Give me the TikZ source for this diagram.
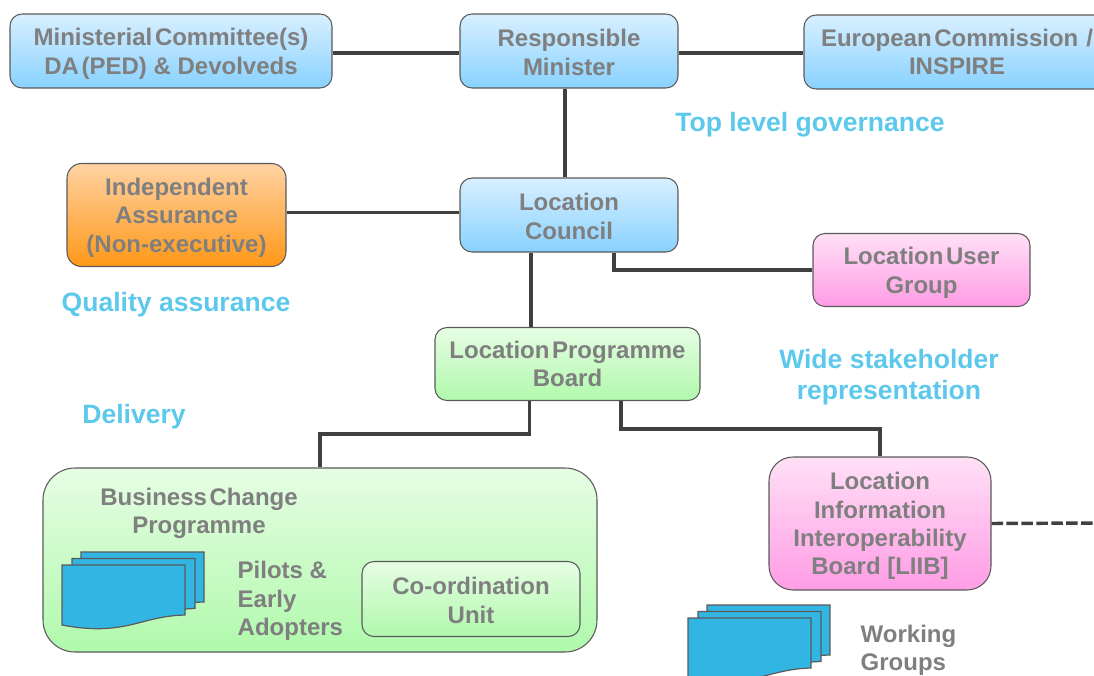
\documentclass[tikz,border=0pt]{standalone}
\usepackage{fontspec}
\setmainfont{Liberation Sans}
\usetikzlibrary{positioning}
\usetikzlibrary{calc}

\definecolor{txtgray}{HTML}{7F7F7F}
\definecolor{linegray}{HTML}{404040}
\definecolor{edgegray}{HTML}{5A5A5A}
\definecolor{headblue}{HTML}{5BC8EC}
\definecolor{docblue}{HTML}{31B6E4}
\definecolor{bluetop}{HTML}{D8EFFF}
\definecolor{bluebot}{HTML}{88D2FF}
\definecolor{orangetop}{HTML}{FFD2A3}
\definecolor{orangebot}{HTML}{FF9817}
\definecolor{pinktop}{HTML}{FFE0F6}
\definecolor{pinkbot}{HTML}{FF9CE5}
\definecolor{greentop}{HTML}{E6FDE3}
\definecolor{greenbot}{HTML}{B0F9AC}

% narrow word gap and a top strut that lowers the text in its box
\newcommand{\tsp}{\hspace{0.11em}}
\newcommand{\low}{\rule{0pt}{17pt}}

\tikzset{
  box/.style={draw=edgegray, line width=0.8pt, rounded corners=9pt, inner sep=0pt, align=center,
     text=txtgray, font=\fontsize{18}{21.3}\selectfont\bfseries},
  bluebox/.style={box, top color=bluetop, bottom color=bluebot},
  orangebox/.style={box, rounded corners=11pt, top color=orangetop, bottom color=orangebot},
  pinkbox/.style={box, top color=pinktop, bottom color=pinkbot},
  greenbox/.style={box, top color=greentop, bottom color=greenbot},
  link/.style={draw=linegray, line width=2.6pt},
  head/.style={text=headblue, align=center, font=\fontsize{19.9}{23.5}\selectfont\bfseries},
  note/.style={text=txtgray, align=left, font=\fontsize{18}{21.3}\selectfont\bfseries},
  page/.style={draw=edgegray, line width=0.9pt, fill=docblue}
}

\begin{document}
\begin{tikzpicture}[x=0.75pt,y=-0.75pt]

  \def\d{0.75pt}

  \useasboundingbox (0,0) rectangle (1094,675);
  \clip (0,0) rectangle (1094,675);

  %top row
  \node[bluebox, minimum width=322*\d, minimum height=74*\d] (mincom) at (171,51) {\low Ministerial\tsp Committee(s)\\DA\tsp (PED) \& Devolveds};
  \node[bluebox, minimum width=218*\d, minimum height=74*\d] (minister) at (569,51) {\rule{0pt}{15pt}Responsible\\Minister};
  \node[bluebox, minimum width=306*\d, minimum height=74*\d, text width=290*\d] (ec) at (957,52) {European\tsp Commission /\\INSPIRE};

  %middle
  \node[bluebox, minimum width=218*\d, minimum height=74*\d] (council) at (569,215) {\rule{0pt}{15pt}Location\\Council};
  \node[orangebox, minimum width=219*\d, minimum height=103*\d] (assurance) at (176.5,215) {\low Independent\\Assurance\\(Non-executive)};
  \node[pinkbox, minimum width=217*\d, minimum height=73*\d] (usergroup) at (921.5,270) {\low Location\tsp User\\Group};
  \node[greenbox, minimum width=265*\d, minimum height=73*\d] (board) at (567.5,364) {Location\tsp Programme\\Board};

  %bottom
  \node[greenbox, rounded corners=24pt, minimum width=554*\d, minimum height=184*\d] (change) at (320,560) {};
  \node[greenbox, minimum width=218*\d, minimum height=75*\d] (unit) at (471,599) {\rule{0pt}{15pt}Co-ordination\\Unit};
  \node[pinkbox, rounded corners=18pt, minimum width=222*\d, minimum height=133*\d] (liib) at (880,523.5) {\low Location\\Information\\Interoperability\\Board [LIIB]};
  \coordinate (liibend) at (1094,523);

  %connectors
  \draw[link] ($(mincom.east)+(0,2)$) -- ($(minister.west)+(0,2)$);
  \draw[link] ($(minister.east)+(0,2)$) -- (ec.west |- {$(minister.east)+(0,2)$});
  \draw[link] ($(minister.south)+(-4,0)$) -- ($(council.north)+(-4,0)$);
  \draw[link] ($(council.west)+(0,-2.5)$) -- (assurance.east |- {$(council.west)+(0,-2.5)$});
  \draw[link] ($(council.south)+(45,0)$) |- (usergroup.west);
  \draw[link] ($(council.south)+(-38,0)$) -- ($(board.north)+(-36.5,0)$);
  \draw[link] ($(board.south)+(-38,0)$) -- ++(0,33) -| (change.north);
  \draw[link] ($(board.south)+(53.5,0)$) -- ++(0,28) -| (liib.north);
  \draw[link, dash pattern=on 8.6pt off 2.6pt] (liib.east) -- (liibend);

  %documents
  \foreach \ox/\oy in {0/0,626/53}{
    \foreach \i/\sx/\sy in {2/19/-13,1/10/-6.5,0/0/0}{
      \draw[page] (62+\ox+\sx,565+\oy+\sy) -- (185+\ox+\sx,565+\oy+\sy) -- (185+\ox+\sx,615+\oy+\sy)
         .. controls (140+\ox+\sx,616+\oy+\sy) and (125+\ox+\sx,637+\oy+\sy) .. (62+\ox+\sx,625+\oy+\sy) -- cycle;
    }
  }

  %texts
  \node[note, align=center] (changelabel) at (199,513.5) {Business\tsp Change\\Programme};
  \node[note, anchor=west] (pilots) at (233,601) {Pilots \&\\Early\\Adopters};
  \node[note, anchor=west] (groups) at (856,650) {Working\\Groups};

  \node[head] (toplevel) at (810,125) {Top level governance};
  \node[head] (quality) at (176,305) {Quality assurance};
  \node[head] (wide) at (889,377) {Wide stakeholder\\representation};
  \node[head] (delivery) at (134,417) {Delivery};

\end{tikzpicture}
\end{document}
